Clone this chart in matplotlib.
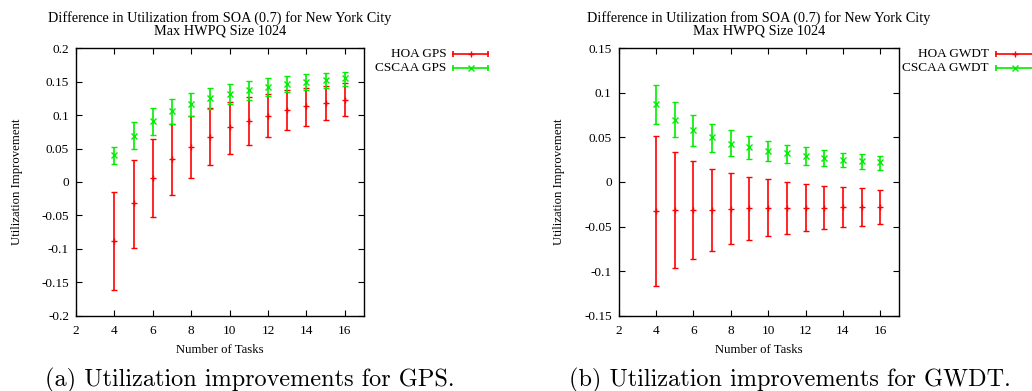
import matplotlib
matplotlib.use('Agg')
import matplotlib.pyplot as plt
from matplotlib.ticker import FuncFormatter, MultipleLocator

plt.rcParams['font.family'] = 'Liberation Serif'
plt.rcParams['axes.unicode_minus'] = False

tasks = [4, 5, 6, 7, 8, 9, 10, 11, 12, 13, 14, 15, 16]

# GPS (left panel): mean, upper end, lower end of each error bar
hoa_gps = [-0.088, -0.032, 0.006, 0.034, 0.053, 0.068, 0.082, 0.091, 0.099, 0.107, 0.113, 0.118, 0.123]
hoa_gps_hi = [-0.0145, 0.033, 0.064, 0.086, 0.099, 0.110, 0.119, 0.127, 0.132, 0.137, 0.141, 0.144, 0.148]
hoa_gps_lo = [-0.162, -0.099, -0.052, -0.019, 0.006, 0.026, 0.042, 0.056, 0.067, 0.077, 0.084, 0.092, 0.098]
cscaa_gps = [0.040, 0.069, 0.091, 0.106, 0.116, 0.125, 0.132, 0.137, 0.142, 0.146, 0.150, 0.153, 0.155]
cscaa_gps_hi = [0.052, 0.089, 0.110, 0.124, 0.133, 0.141, 0.147, 0.151, 0.155, 0.158, 0.161, 0.163, 0.165]
cscaa_gps_lo = [0.027, 0.050, 0.070, 0.086, 0.099, 0.109, 0.116, 0.123, 0.129, 0.134, 0.138, 0.141, 0.144]

# GWDT (right panel)
hoa_gwdt = [-0.033, -0.031, -0.031, -0.031, -0.030, -0.029, -0.029, -0.029, -0.029, -0.029, -0.028, -0.028, -0.028]
hoa_gwdt_hi = [0.052, 0.034, 0.023, 0.015, 0.010, 0.006, 0.003, 0.000, -0.002, -0.0045, -0.0056, -0.007, -0.0086]
hoa_gwdt_lo = [-0.117, -0.097, -0.086, -0.077, -0.070, -0.065, -0.061, -0.058, -0.055, -0.053, -0.0505, -0.049, -0.047]
cscaa_gwdt = [0.087, 0.070, 0.058, 0.050, 0.043, 0.039, 0.035, 0.032, 0.029, 0.027, 0.025, 0.023, 0.022]
cscaa_gwdt_hi = [0.109, 0.090, 0.0755, 0.065, 0.058, 0.052, 0.046, 0.042, 0.039, 0.036, 0.033, 0.031, 0.0295]
cscaa_gwdt_lo = [0.065, 0.050, 0.040, 0.034, 0.0295, 0.026, 0.023, 0.021, 0.019, 0.0176, 0.0164, 0.015, 0.0138]

RED = '#ff0000'
GREEN = '#00ee00'
title = 'Difference in Utilization from SOA (0.7) for New York City\nMax HWPQ Size 1024'


def draw_series(ax, y, hi, lo, color, marker):
    err = [[m - l for m, l in zip(y, lo)], [h - m for m, h in zip(y, hi)]]
    ax.errorbar(tasks, y, yerr=err, fmt=marker, color=color, ecolor=color,
                elinewidth=1.2, capsize=2, capthick=1.2, markersize=4,
                markeredgewidth=1.0, clip_on=False)


def legend_entry(ax, row, label, color, marker, x_text, x0, x1):
    yy = 0.979 - row * 0.052
    ax.text(x_text, yy, label, transform=ax.transAxes, ha='right', va='center',
            fontsize=9.5)
    ax.plot([x0, x1], [yy, yy], transform=ax.transAxes, color=color, lw=1.2,
            clip_on=False)
    ax.plot([x0, x1], [yy, yy], transform=ax.transAxes, color=color, lw=0,
            marker='|', markersize=5, markeredgewidth=1.2, clip_on=False)
    ax.plot([(x0 + x1) / 2], [yy], transform=ax.transAxes, color=color,
            marker=marker, markersize=4, markeredgewidth=1.0, clip_on=False)


def style_axes(ax, ylim, ystep):
    ax.set_xlim(2, 17)
    ax.set_ylim(*ylim)
    ax.xaxis.set_major_locator(MultipleLocator(2))
    ax.yaxis.set_major_locator(MultipleLocator(ystep))
    ax.yaxis.set_major_formatter(FuncFormatter(lambda v, p: '%g' % round(v, 4)))
    ax.tick_params(direction='in', length=4, width=0.8, labelsize=9.5,
                   top=True, right=True)
    ax.tick_params(axis='x', pad=7)
    ax.tick_params(axis='y', pad=5)
    for s in ax.spines.values():
        s.set_linewidth(1.0)
    ax.set_xlabel('Number of Tasks', fontsize=9.2, labelpad=5)
    ax.set_ylabel('Utilization Improvement', fontsize=9.2)
    ax.set_title(title, fontsize=10.3, linespacing=0.95, pad=10)


fig = plt.figure(figsize=(10.32, 3.91), dpi=100)
ax1 = fig.add_axes([0.0736, 0.1926, 0.2791, 0.684])
ax2 = fig.add_axes([0.5995, 0.1926, 0.2716, 0.684])

draw_series(ax1, hoa_gps, hoa_gps_hi, hoa_gps_lo, RED, '+')
draw_series(ax1, cscaa_gps, cscaa_gps_hi, cscaa_gps_lo, GREEN, 'x')
style_axes(ax1, (-0.2, 0.2), 0.05)
ax1.yaxis.set_label_coords(-0.185, 0.5)
legend_entry(ax1, 0, 'HOA GPS', RED, '+', 1.287, 1.31, 1.43)
legend_entry(ax1, 1, 'CSCAA GPS', GREEN, 'x', 1.287, 1.31, 1.43)

draw_series(ax2, hoa_gwdt, hoa_gwdt_hi, hoa_gwdt_lo, RED, '+')
draw_series(ax2, cscaa_gwdt, cscaa_gwdt_hi, cscaa_gwdt_lo, GREEN, 'x')
style_axes(ax2, (-0.15, 0.15), 0.05)
ax2.yaxis.set_label_coords(-0.19, 0.5)
legend_entry(ax2, 0, 'HOA GWDT', RED, '+', 1.32, 1.345, 1.48)
legend_entry(ax2, 1, 'CSCAA GWDT', GREEN, 'x', 1.32, 1.345, 1.48)

fig.text(0.242, 0.012, '(a) Utilization improvements for GPS.', family='cmr10',
         fontsize=17.5, ha='center')
fig.text(0.765, 0.012, '(b) Utilization improvements for GWDT.', family='cmr10',
         fontsize=17.5, ha='center')

fig.savefig('out.png', dpi=100)
